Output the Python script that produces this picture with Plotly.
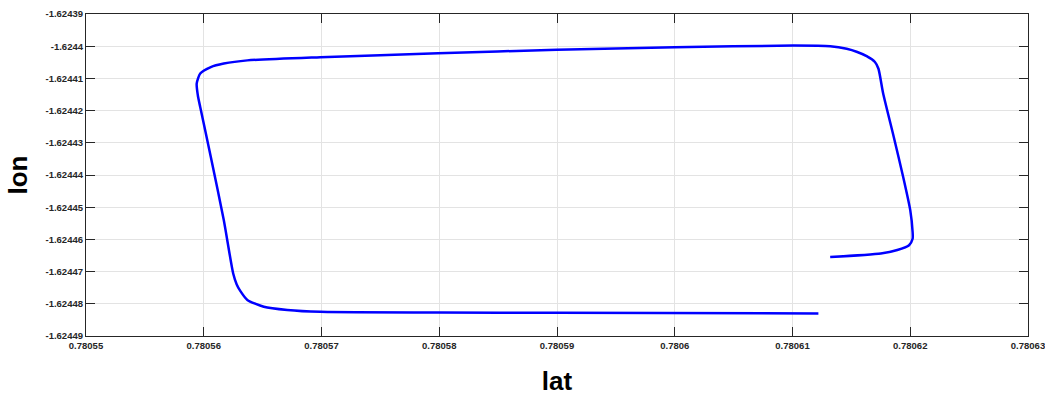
import plotly.graph_objects as go

lat = [0.7806132, 0.7806175, 0.7806189, 0.7806199, 0.7806202, 0.7806202, 0.7806200,
       0.7806194, 0.7806186, 0.7806177, 0.7806173, 0.7806170, 0.7806163, 0.7806155,
       0.7806146, 0.7806132, 0.7806101, 0.7806000, 0.7805900, 0.7805799, 0.7805699,
       0.7805637, 0.7805617, 0.7805606, 0.7805597, 0.7805594, 0.7805595, 0.7805597,
       0.7805606, 0.7805617, 0.7805625, 0.7805628, 0.7805631, 0.7805637, 0.7805651,
       0.7805671, 0.7805699, 0.7805799, 0.7805900, 0.7806122]
lon = [-1.6244655, -1.6244644, -1.6244633, -1.6244618, -1.6244598, -1.6244577, -1.6244509,
       -1.6244406, -1.6244282, -1.6244147, -1.6244070, -1.6244049, -1.6244031, -1.6244018,
       -1.6244008, -1.6244000, -1.6243998, -1.6244003, -1.6244011, -1.6244022, -1.6244034,
       -1.6244044, -1.6244054, -1.6244065, -1.6244085, -1.6244116, -1.6244153, -1.6244189,
       -1.6244344, -1.6244540, -1.6244706, -1.6244740, -1.6244760, -1.6244788, -1.6244809,
       -1.6244819, -1.6244825, -1.6244827, -1.6244828, -1.6244830]

x_ticks = [0.78055, 0.78056, 0.78057, 0.78058, 0.78059, 0.78060, 0.78061, 0.78062, 0.78063]
x_tick_labels = ["0.78055", "0.78056", "0.78057", "0.78058", "0.78059", "0.7806",
                 "0.78061", "0.78062", "0.78063"]
y_ticks = [-1.62449, -1.62448, -1.62447, -1.62446, -1.62445, -1.62444, -1.62443,
           -1.62442, -1.62441, -1.62440, -1.62439]
y_tick_labels = ["-1.62449", "-1.62448", "-1.62447", "-1.62446", "-1.62445", "-1.62444",
                 "-1.62443", "-1.62442", "-1.62441", "-1.6244", "-1.62439"]

fig = go.Figure()
fig.add_trace(go.Scatter(x=lat, y=lon, mode="lines",
                         line=dict(color="#0000ff", width=2.5, shape="spline", smoothing=0.6),
                         showlegend=False, hoverinfo="skip"))

axis_common = dict(
    showline=True, linecolor="#262626", linewidth=1.2, mirror="ticks",
    ticks="inside", ticklen=9, tickwidth=1.2, tickcolor="#262626",
    showgrid=True, gridcolor="#e3e3e3", gridwidth=1, zeroline=False,
    automargin=False, ticklabeloverflow="allow",
    tickfont=dict(family="Liberation Sans", size=9.5, color="#262626", weight="bold"),
)

fig.update_xaxes(range=[0.78055, 0.78063], tickvals=x_ticks, ticktext=x_tick_labels,
                 title=dict(text="lat", standoff=22,
                            font=dict(family="Liberation Sans", size=26, color="#000000", weight="bold")),
                 **axis_common)
fig.update_yaxes(range=[-1.62449, -1.62439], tickvals=y_ticks, ticktext=y_tick_labels,
                 title=dict(text="lon", standoff=10,
                            font=dict(family="Liberation Sans", size=26, color="#000000", weight="bold")),
                 **axis_common)

fig.update_layout(width=1045, height=396, margin=dict(l=86, r=17, t=14, b=60),
                  paper_bgcolor="white", plot_bgcolor="white")

fig.write_html("out.html")
